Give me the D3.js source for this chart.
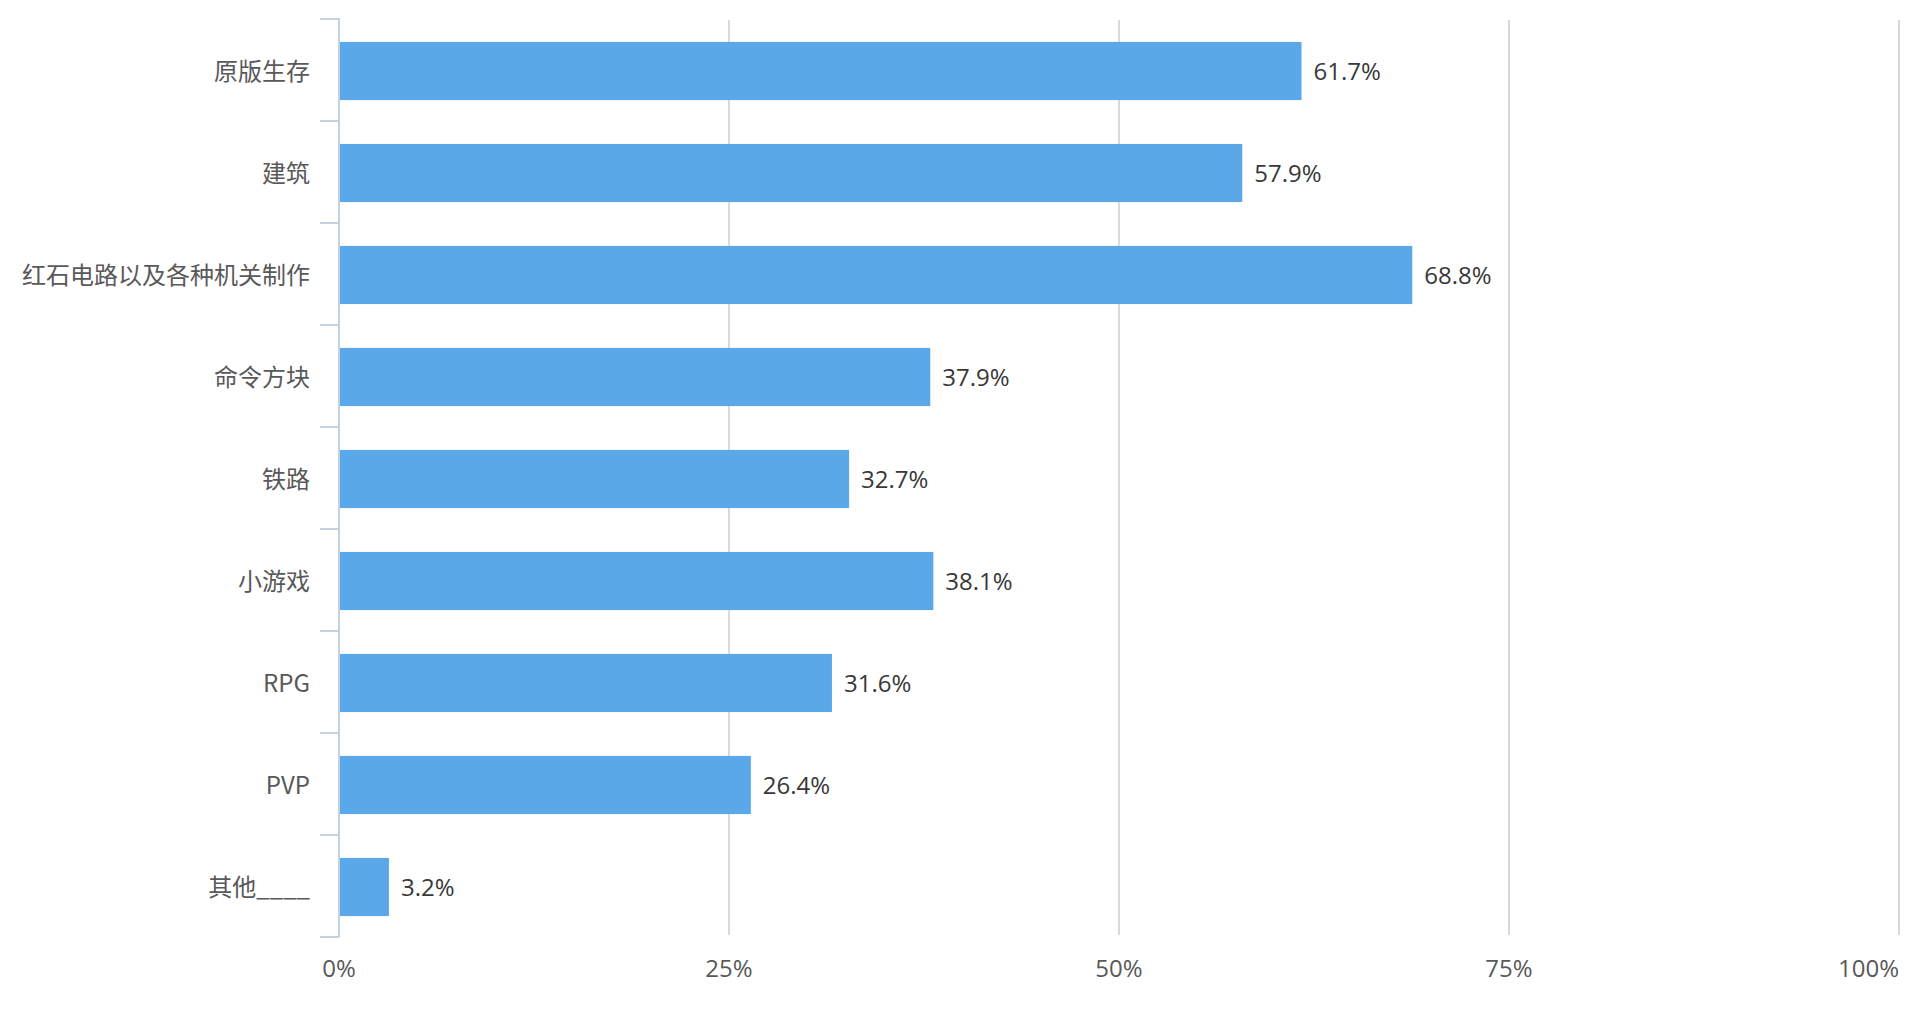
<!DOCTYPE html>
<html><head><meta charset="utf-8">
<script src="https://cdn.jsdelivr.net/npm/d3@7"></script>
<style>html,body{margin:0;padding:0;background:#fff;}svg{display:block;}</style>
</head><body>
<script>
const categories = ["原版生存","建筑","红石电路以及各种机关制作","命令方块","铁路","小游戏","RPG","PVP","其他____"];
const values = [61.7,57.9,68.8,37.9,32.7,38.1,31.6,26.4,3.2];
const tickValues = [0,25,50,75,100];
const tickLabels = ["0%","25%","50%","75%","100%"];

const W=1920,H=1010;
const font = "'Open Sans','Noto Sans CJK SC','Noto Sans',sans-serif";
const catFont = "'Noto Sans CJK SC','Open Sans',sans-serif";
const svg=d3.select("body").append("svg").attr("width",W).attr("height",H);
const x=d3.scaleLinear().domain([0,100]).range([339,1899]);
const y=d3.scaleBand().domain(categories).range([20,938]).paddingInner(0.43).paddingOuter(0.215);

// gridlines
svg.append("g").selectAll("line").data(tickValues.slice(1)).join("line")
 .attr("x1",d=>x(d)).attr("x2",d=>x(d)).attr("y1",20).attr("y2",935)
 .attr("stroke","#d9d9d9").attr("stroke-width",2);

// tick labels
svg.append("g").selectAll("text").data(tickValues).join("text")
 .attr("x",d=>x(d)).attr("y",977)
 .attr("text-anchor",(d,i)=>i===tickValues.length-1?"end":"middle")
 .attr("font-family",font).attr("font-size",24).attr("fill","#595959")
 .text((d,i)=>tickLabels[i]);

// bars
svg.append("g").selectAll("rect").data(categories).join("rect")
 .attr("x",x(0)).attr("y",d=>y(d)).attr("height",y.bandwidth())
 .attr("width",(d,i)=>x(values[i])-x(0)).attr("fill","#5aa8ea");

// value labels
svg.append("g").selectAll("text").data(categories).join("text")
 .attr("x",(d,i)=>x(values[i])+12).attr("y",d=>y(d)+y.bandwidth()/2)
 .attr("dy","0.38em").attr("font-family",font).attr("font-size",24).attr("fill","#383838")
 .text((d,i)=>values[i]+"%");

// y axis
const yAxisG=svg.append("g");
const step=(937-19)/categories.length;
yAxisG.append("line").attr("x1",339).attr("x2",339).attr("y1",18).attr("y2",937)
 .attr("stroke","#c3d1e0").attr("stroke-width",2);
yAxisG.selectAll("line.t").data(d3.range(categories.length+1)).join("line").attr("class","t")
 .attr("x1",320).attr("x2",339).attr("y1",i=>19+i*step).attr("y2",i=>19+i*step)
 .attr("stroke","#c3d1e0").attr("stroke-width",2);
yAxisG.selectAll("text").data(categories).join("text")
 .attr("x",310).attr("y",d=>y(d)+y.bandwidth()/2).attr("dy","0.36em")
 .attr("text-anchor","end").attr("font-family",catFont).attr("font-size",24).attr("fill","#595959")
 .text(d=>d);
</script>
</body></html>
